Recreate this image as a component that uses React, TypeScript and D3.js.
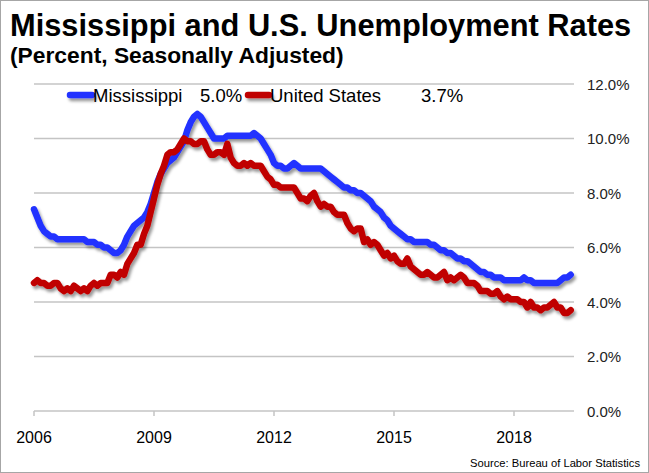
import React from "react";
import * as d3 from "d3";

const yearLabels = ["2006", "2009", "2012", "2015", "2018"];
const yearTickMonths = [0, 36, 72, 108, 144];
const yTicks = [0, 2, 4, 6, 8, 10, 12];

// Monthly, Jan 2006 - Jun 2019
const mississippi = [
  7.4, 7.1, 6.8, 6.6, 6.5, 6.4, 6.4, 6.3, 6.3, 6.3, 6.3, 6.3,
  6.3, 6.3, 6.3, 6.3, 6.2, 6.2, 6.2, 6.1, 6.1, 6.0, 6.0, 5.9,
  5.8, 5.8, 5.9, 6.1, 6.4, 6.6, 6.8, 6.9, 7.0, 7.1, 7.3, 7.6,
  8.0, 8.4, 8.7, 8.9, 9.1, 9.2, 9.3, 9.5, 9.7, 9.9, 10.3, 10.6,
  10.8, 10.9, 10.8, 10.6, 10.4, 10.2, 10.0, 10.0, 10.0, 10.0, 10.1, 10.1,
  10.1, 10.1, 10.1, 10.1, 10.1, 10.1, 10.2, 10.1, 10.0, 9.8, 9.6, 9.4,
  9.1, 9.0, 9.0, 8.9, 8.9, 9.0, 9.1, 9.0, 8.9, 8.9, 8.9, 8.9,
  8.9, 8.9, 8.9, 8.8, 8.7, 8.6, 8.5, 8.4, 8.3, 8.2, 8.2, 8.1,
  8.1, 8.0, 8.0, 7.9, 7.8, 7.7, 7.5, 7.4, 7.3, 7.1, 7.0, 6.8,
  6.7, 6.6, 6.5, 6.4, 6.3, 6.3, 6.2, 6.2, 6.2, 6.2, 6.2, 6.1,
  6.1, 6.0, 5.9, 5.9, 5.8, 5.8, 5.7, 5.6, 5.6, 5.5, 5.5, 5.4,
  5.3, 5.2, 5.1, 5.1, 5.0, 5.0, 4.9, 4.9, 4.9, 4.8, 4.8, 4.8,
  4.8, 4.8, 4.8, 4.9, 4.8, 4.8, 4.7, 4.7, 4.7, 4.7, 4.7, 4.7,
  4.7, 4.7, 4.8, 4.9, 4.9, 5.0,
];

const unitedStates = [
  4.7, 4.8, 4.7, 4.7, 4.6, 4.6, 4.7, 4.7, 4.5, 4.4, 4.5, 4.4,
  4.6, 4.5, 4.4, 4.5, 4.4, 4.6, 4.7, 4.6, 4.7, 4.7, 4.7, 5.0,
  5.0, 4.9, 5.1, 5.0, 5.4, 5.6, 5.8, 6.1, 6.1, 6.5, 6.8, 7.3,
  7.8, 8.3, 8.7, 9.0, 9.4, 9.5, 9.5, 9.6, 9.8, 10.0, 9.9, 9.9,
  9.8, 9.8, 9.9, 9.9, 9.6, 9.4, 9.4, 9.5, 9.5, 9.4, 9.8, 9.3,
  9.1, 9.0, 9.0, 9.1, 9.0, 9.1, 9.0, 9.0, 9.0, 8.8, 8.6, 8.5,
  8.3, 8.3, 8.2, 8.2, 8.2, 8.2, 8.2, 8.0, 7.8, 7.8, 7.7, 7.9,
  8.0, 7.7, 7.5, 7.6, 7.5, 7.5, 7.3, 7.2, 7.2, 7.2, 6.9, 6.7,
  6.6, 6.7, 6.7, 6.2, 6.3, 6.1, 6.2, 6.1, 5.9, 5.7, 5.8, 5.6,
  5.7, 5.5, 5.4, 5.4, 5.6, 5.3, 5.2, 5.1, 5.0, 5.0, 5.1, 5.0,
  4.9, 4.9, 5.0, 5.1, 4.8, 4.9, 4.8, 4.9, 5.0, 4.9, 4.7, 4.7,
  4.7, 4.6, 4.4, 4.4, 4.4, 4.3, 4.3, 4.4, 4.2, 4.1, 4.2, 4.1,
  4.1, 4.1, 4.0, 4.0, 3.8, 4.0, 3.8, 3.8, 3.7, 3.8, 3.8, 3.9,
  4.0, 3.8, 3.8, 3.6, 3.6, 3.7,
];

const W = 649;
const H = 473;
const FONT = "'Liberation Sans', Arial, sans-serif";
const BLUE = "#2233ff";
const RED = "#c00000";

export default function App() {
  const x = d3.scaleLinear().domain([0, 162]).range([34, 574]);
  const y = d3.scaleLinear().domain([0, 12]).range([411, 84]);
  const line = d3
    .line<number>()
    .x((_, i) => x(i))
    .y((d) => y(d))
    .curve(d3.curveLinear);

  return (
    <div style={{ position: "fixed", left: 0, top: 0 }}>
      <svg width={W} height={H} style={{ display: "block", background: "#fff" }}>
        <defs>
          <filter id="shadow" filterUnits="userSpaceOnUse" x={0} y={0} width={W} height={H}>
            <feDropShadow dx="2" dy="3" stdDeviation="1.6" floodColor="#000" floodOpacity="0.4" />
          </filter>
        </defs>
        <rect x={0.5} y={0.5} width={W - 1} height={H - 1} fill="#fff" stroke="#a6a6a6" strokeWidth={1} />

        <text x={10} y={36} fontFamily={FONT} fontWeight="bold" fontSize={30.8} fill="#000">
          Mississippi and U.S. Unemployment Rates
        </text>
        <text x={10} y={63} fontFamily={FONT} fontWeight="bold" fontSize={22.8} fill="#000">
          (Percent, Seasonally Adjusted)
        </text>

        {yTicks.map((t) => (
          <g key={t}>
            <line x1={x(0)} x2={x(162)} y1={y(t)} y2={y(t)} stroke="#c4c4c4" strokeWidth={1.5} />
            <text x={587} y={y(t) + 5.5} fontFamily={FONT} fontSize={15} fill="#222">
              {d3.format(".1f")(t) + "%"}
            </text>
          </g>
        ))}

        {yearTickMonths.map((m, i) => (
          <g key={m}>
            <line x1={x(m)} x2={x(m)} y1={y(0)} y2={y(0) + 5} stroke="#c4c4c4" strokeWidth={1.5} />
            <text x={x(m)} y={443} textAnchor="middle" fontFamily={FONT} fontSize={16} fill="#000">
              {yearLabels[i]}
            </text>
          </g>
        ))}

        <g filter="url(#shadow)">
          <path d={line(mississippi) || ""} fill="none" stroke={BLUE} strokeWidth={6.5} strokeLinejoin="round" strokeLinecap="round" />
          <path d={line(unitedStates) || ""} fill="none" stroke={RED} strokeWidth={6.5} strokeLinejoin="round" strokeLinecap="round" />
        </g>

        <g filter="url(#shadow)">
          <line x1={70} x2={92} y1={95} y2={95} stroke={BLUE} strokeWidth={6.5} strokeLinecap="round" />
          <line x1={248} x2={269} y1={95} y2={95} stroke={RED} strokeWidth={6.5} strokeLinecap="round" />
        </g>
        <text x={93} y={102} fontFamily={FONT} fontSize={18.5} fill="#000">Mississippi</text>
        <text x={200} y={102} fontFamily={FONT} fontSize={18.5} fill="#000">
          {d3.format(".1f")(mississippi[mississippi.length - 1]) + "%"}
        </text>
        <text x={270} y={102} fontFamily={FONT} fontSize={18.5} fill="#000">United States</text>
        <text x={421} y={102} fontFamily={FONT} fontSize={18.5} fill="#000">
          {d3.format(".1f")(unitedStates[unitedStates.length - 1]) + "%"}
        </text>

        <text x={640} y={467} textAnchor="end" fontFamily={FONT} fontSize={11} fill="#000" textLength={170} lengthAdjust="spacingAndGlyphs">
          Source: Bureau of Labor Statistics
        </text>
      </svg>
    </div>
  );
}
